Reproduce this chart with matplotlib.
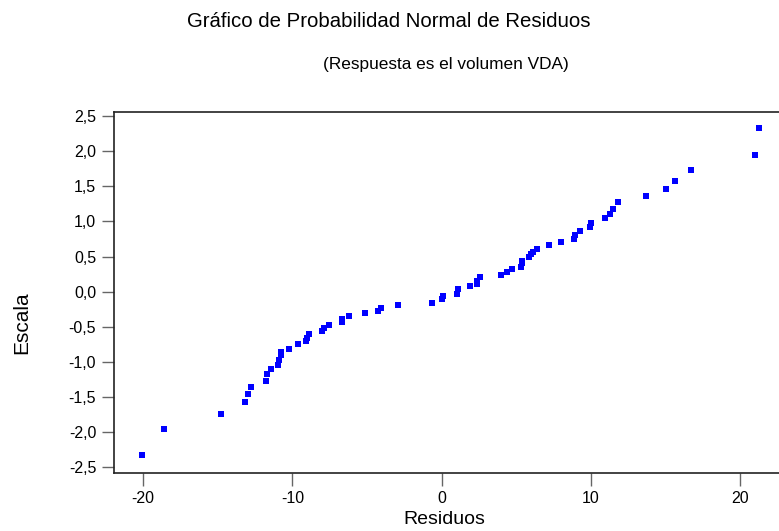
import numpy as np
import matplotlib
matplotlib.use('Agg')
import matplotlib.pyplot as plt
from matplotlib.ticker import FuncFormatter

plt.rcParams['font.family'] = ['Liberation Sans', 'DejaVu Sans']
plt.rcParams['axes.unicode_minus'] = False

# residuos (x) y escala normal (y)
residuos = [-20.09, -18.62, -14.78, -13.17, -12.97, -12.79, -11.79, -11.72,
            -11.41, -10.94, -10.88, -10.78, -10.76, -10.23, -9.62, -9.09,
            -9.04, -8.87, -8.02, -7.90, -7.53, -6.70, -6.66, -6.21,
            -5.14, -4.29, -4.07, -2.91, -0.67, 0.04, 0.11, 1.00,
            1.09, 1.90, 2.34, 2.38, 2.57, 3.97, 4.35, 4.69,
            5.29, 5.36, 5.40, 5.87, 5.98, 6.10, 6.38, 7.17,
            7.99, 8.88, 8.95, 9.26, 9.91, 9.98, 10.94, 11.29,
            11.47, 11.83, 13.68, 15.00, 15.61, 16.68, 21.00, 21.23]
escala = [-2.324, -1.949, -1.736, -1.574, -1.460, -1.356, -1.267, -1.176,
          -1.100, -1.039, -0.976, -0.905, -0.858, -0.811, -0.740, -0.706,
          -0.663, -0.602, -0.564, -0.512, -0.474, -0.427, -0.389, -0.346,
          -0.307, -0.270, -0.232, -0.194, -0.157, -0.108, -0.061, -0.028,
          0.034, 0.077, 0.110, 0.157, 0.205, 0.242, 0.280, 0.319,
          0.352, 0.404, 0.437, 0.490, 0.537, 0.569, 0.608, 0.665,
          0.712, 0.750, 0.811, 0.868, 0.917, 0.978, 1.045, 1.110,
          1.181, 1.272, 1.362, 1.466, 1.580, 1.732, 1.950, 2.330]

xticks = [-20, -10, 0, 10, 20]
yticks = [-2.5, -2.0, -1.5, -1.0, -0.5, 0.0, 0.5, 1.0, 1.5, 2.0, 2.5]

fig = plt.figure(figsize=(7.79, 5.31), dpi=100)
# el marco sigue mas alla del borde derecho, como en el original
ax = fig.add_axes([0.1467, 0.1098, 0.8738, 0.6798])

ax.plot(residuos, escala, 's', color='#0000ff', ms=4.5, mew=0)

ax.set_xlim(-21.93, 23.66)
ax.set_ylim(-2.576, 2.562)
ax.set_xticks(xticks)
ax.set_yticks(yticks)
ax.yaxis.set_major_formatter(FuncFormatter(lambda v, p: f'{v:.1f}'.replace('.', ',')))
ax.tick_params(direction='out', length=9, width=1, color='#666666',
               labelsize=11.5, pad=4)
for s in ax.spines.values():
    s.set_linewidth(1.2)
    s.set_color('#222222')

fig.text(0.499, 0.960, 'Gráfico de Probabilidad Normal de Residuos',
         ha='center', va='center', fontsize=14.7)
fig.text(0.572, 0.878, '(Respuesta es el volumen VDA)',
         ha='center', va='center', fontsize=12.4)
fig.text(0.571, 0.022, 'Residuos', ha='center', va='center', fontsize=14)
fig.text(0.028, 0.393, 'Escala', ha='center', va='center', fontsize=15,
         rotation=90)

fig.savefig('out.png', dpi=100)
